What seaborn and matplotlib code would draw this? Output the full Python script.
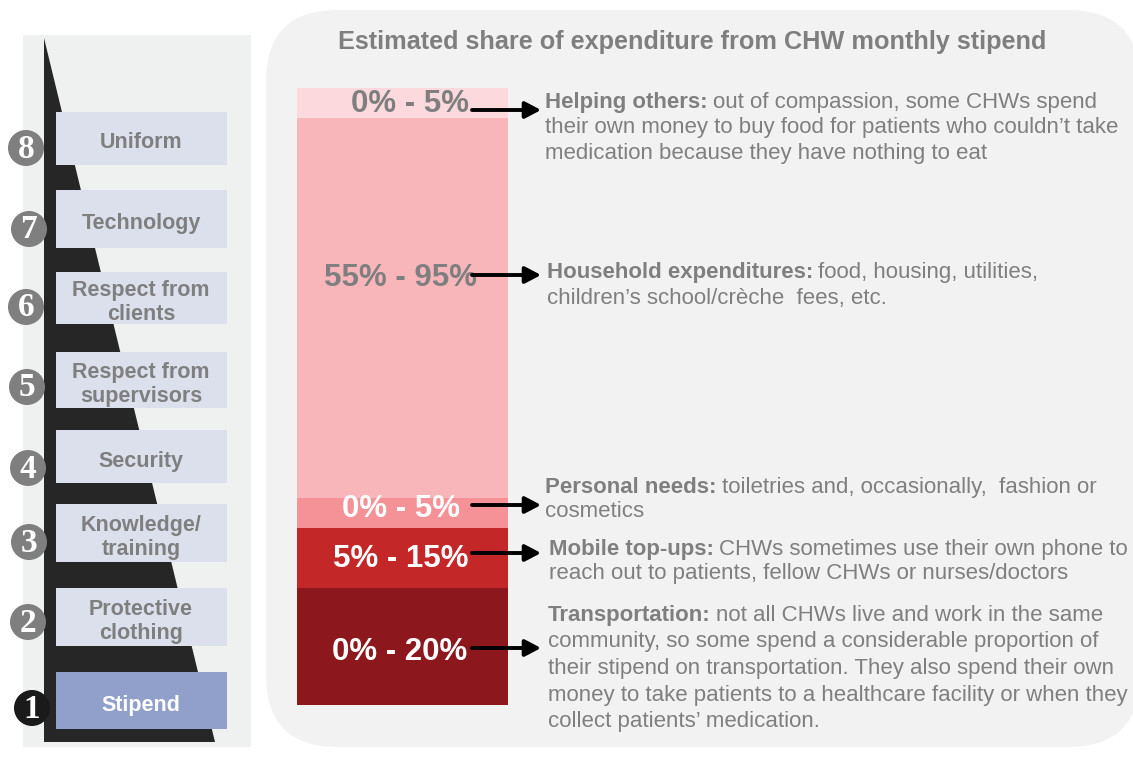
import numpy as np
import seaborn as sns
import matplotlib.pyplot as plt
from matplotlib.patches import FancyBboxPatch, Rectangle, Circle, Polygon

# stacked bar, listed bottom to top (share of stipend, % of bar height)
categories = ["Transportation", "Mobile top-ups", "Personal needs",
              "Household expenditures", "Helping others"]
shares = [19.0, 9.7, 4.9, 61.6, 4.8]
range_labels = ["0% - 20%", "5% - 15%", "0% - 5%", "55% - 95%", "0% - 5%"]
bar_colors = ["#8C181D", "#C42727", "#F49297", "#F8B6BB", "#FBD9DD"]
label_colors = ["white", "white", "white", "#7F7F7F", "#7F7F7F"]

notes = [
    ["not all CHWs live and work in the same",
     "community, so some spend a considerable proportion of",
     "their stipend on transportation. They also spend their own",
     "money to take patients to a healthcare facility or when they",
     "collect patients\u2019 medication."],
    ["CHWs sometimes use their own phone to",
     "reach out to patients, fellow CHWs or nurses/doctors"],
    ["toiletries and, occasionally,  fashion or",
     "cosmetics"],
    ["food, housing, utilities,",
     "children\u2019s school/cr\u00e8che  fees, etc."],
    ["out of compassion, some CHWs spend",
     "their own money to buy food for patients who couldn\u2019t take",
     "medication because they have nothing to eat"],
]

# ladder of needs, bottom (1) to top (8)
ladder = ["Stipend", "Protective\nclothing", "Knowledge/\ntraining", "Security",
          "Respect from\nsupervisors", "Respect from\nclients", "Technology", "Uniform"]

W, H = 1133, 757
GRAY = "#7F7F7F"

sns.set_theme(style="white")
plt.rcParams["font.family"] = ["Liberation Sans", "DejaVu Sans"]

fig = plt.figure(figsize=(W / 100, H / 100), dpi=100)
fig.patch.set_facecolor("white")

# background layer in pixel coords
bg = fig.add_axes([0, 0, 1, 1])
bg.set_xlim(0, W)
bg.set_ylim(H, 0)
bg.axis("off")
bg.add_patch(FancyBboxPatch((266, 10), 874, 737, boxstyle="round,pad=0,rounding_size=72",
                            fc="#F2F2F2", ec="none"))
bg.add_patch(Rectangle((23, 35), 228, 712, fc="#EFF1F1", ec="none"))
bg.add_patch(Polygon([(44, 38), (44, 742), (215, 742)], closed=True, fc="#262626", ec="none"))

box_top = [672, 588, 504, 430, 352, 272, 190, 112]
box_bot = [729, 646, 562, 483, 408, 324, 248, 165]
circ_x = [32, 28, 29, 28, 27, 26, 29, 26]
circ_y = [708, 622, 542, 468, 387, 307, 229, 148]
for i, name in enumerate(ladder):
    first = i == 0
    bg.add_patch(Rectangle((56, box_top[i]), 171, box_bot[i] - box_top[i],
                           fc="#919FCB" if first else "#DCE0EC", ec="none"))
    bg.text(141, (box_top[i] + box_bot[i]) / 2 + 4.5, name, ha="center", va="center",
            fontsize=15.5, fontweight="bold", color="white" if first else GRAY,
            linespacing=1.2)
    bg.add_patch(Circle((circ_x[i], circ_y[i]), 18, fc="#1A1A1A" if first else GRAY, ec="none"))
    bg.text(circ_x[i], circ_y[i] + 1, str(i + 1), ha="center", va="center",
            fontsize=24, fontweight="bold", color="white",
            family=["Liberation Serif", "DejaVu Serif"])

# stacked bar: layered cumulative bars drawn with seaborn
axb = fig.add_axes([297 / W, 1 - 705 / H, 211 / W, 617 / H])
axb.patch.set_alpha(0)
cum = np.cumsum(shares)
for top, color in zip(cum[::-1], bar_colors[::-1]):
    sns.barplot(x=["stipend"], y=[top], color=color, width=1, saturation=1,
                errorbar=None, linewidth=0, edgecolor="none", ax=axb)
axb.set_xlim(-0.5, 0.5)
axb.set_ylim(0, 100)
axb.axis("off")

# overlay for labels, arrows and notes
ov = fig.add_axes([0, 0, 1, 1])
ov.set_xlim(0, W)
ov.set_ylim(H, 0)
ov.axis("off")
ov.patch.set_alpha(0)

ov.text(692, 42, "Estimated share of expenditure from CHW monthly stipend",
        ha="center", va="center", fontsize=18.2, fontweight="bold", color=GRAY)

label_x = [400, 401, 401, 401, 410]
label_y = [652, 559, 509, 278, 104]
arrow_y = [648, 553, 505, 275, 110]
for i in range(len(categories)):
    ov.text(label_x[i], label_y[i], range_labels[i], ha="center", va="center",
            fontsize=22.5, fontweight="bold", color=label_colors[i])
    ov.annotate("", xy=(541, arrow_y[i]), xytext=(472, arrow_y[i]),
                arrowprops=dict(arrowstyle="-|>,head_length=0.95,head_width=0.5",
                                lw=2.8, color="black", shrinkA=0, shrinkB=0,
                                mutation_scale=10))

renderer = fig.canvas.get_renderer()
note_x = [548, 549, 545, 547, 545]
note_base = [621, 555, 493, 278, 108]
note_gap = [26.5, 24, 24, 26, 25.5]
for i, cat in enumerate(categories):
    for j, line in enumerate(notes[i]):
        y = note_base[i] + j * note_gap[i]
        x = note_x[i]
        if j == 0:
            t = ov.text(x, y, cat + ":", ha="left", va="baseline", fontsize=16,
                        fontweight="bold", color=GRAY)
            bb = t.get_window_extent(renderer=renderer)
            x = ov.transData.inverted().transform((bb.x1, 0))[0] + 5
        ov.text(x, y, line, ha="left", va="baseline", fontsize=16, color=GRAY)

fig.savefig("out.png", dpi=100)
